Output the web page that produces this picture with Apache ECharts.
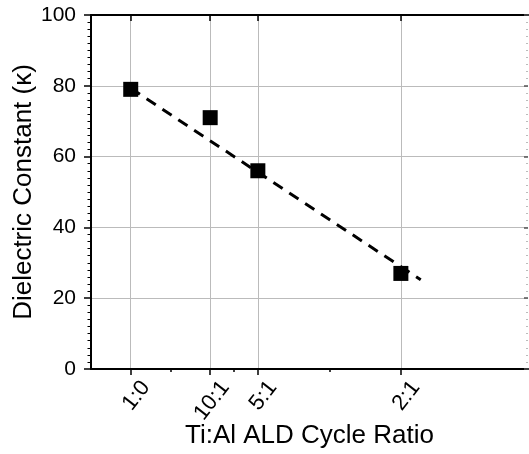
<!DOCTYPE html>
<html>
<head>
<meta charset="utf-8">
<script src="https://cdn.jsdelivr.net/npm/echarts@6/dist/echarts.min.js"></script>
<style>
  html, body { margin: 0; padding: 0; background: #fff; }
  #chart { width: 529px; height: 454px; }
</style>
</head>
<body>
<div id="chart"></div>
<script>
// Ti:Al cycle ratios and where they sit on the (non-uniform) x axis
const ratioLabels = ['1:0', '10:1', '5:1', '2:1'];
const ratioPos = [1, 2, 2.6, 4.4];
const minorPos = [1.5, 2.3, 3.5];

// measured dielectric constant
const kappa = [79, 71, 56, 27];

// dashed trend line end points
const fitX = [1, 4.65];
const fitY = [79.3, 25.2];

const FONT = 'Liberation Sans, Arial, sans-serif';
const X_MIN = 0.5, X_MAX = 6;

const chart = echarts.init(document.getElementById('chart'), null, { renderer: 'canvas' });

const labelFor = v => {
  const i = ratioPos.findIndex(p => Math.abs(p - v) < 1e-6);
  return i >= 0 ? ratioLabels[i] : '';
};

const blankX = (position, extra) => Object.assign({
  type: 'value', position, min: X_MIN, max: X_MAX,
  axisLine: { show: false },
  axisLabel: { show: false },
  splitLine: { show: false },
  nameMoveOverlap: false
}, extra);

chart.setOption({
  backgroundColor: '#ffffff',
  animation: false,
  grid: { left: 91, right: 1, top: 15, bottom: 83, containLabel: false },
  xAxis: [
    {
      type: 'value', position: 'bottom', min: X_MIN, max: X_MAX,
      name: 'Ti:Al ALD Cycle Ratio',
      nameLocation: 'middle', nameGap: 54, nameMoveOverlap: false,
      nameTextStyle: { fontSize: 26, color: '#000', fontFamily: FONT },
      axisLine: { show: true, onZero: false, lineStyle: { color: '#000', width: 2 } },
      axisTick: { show: true, customValues: ratioPos, length: 6, lineStyle: { color: '#000', width: 1.5 } },
      axisLabel: {
        show: true, customValues: ratioPos, formatter: labelFor,
        rotate: 52, fontSize: 22, color: '#000', fontFamily: FONT,
        verticalAlign: 'top', padding: [8, 0, 0, 0], margin: 3
      },
      splitLine: { show: true, lineStyle: { color: '#bbbbbb', width: 1 } }
    },
    blankX('bottom', {
      axisTick: { show: true, customValues: minorPos, length: 3, lineStyle: { color: '#000', width: 1.5 } }
    }),
    blankX('top', {
      axisLine: { show: true, onZero: false, lineStyle: { color: '#000', width: 2 } },
      axisTick: { show: true, inside: true, customValues: ratioPos, length: 6, lineStyle: { color: '#000', width: 1.5 } }
    }),
    blankX('top', {
      axisTick: { show: true, inside: true, customValues: minorPos, length: 3, lineStyle: { color: '#000', width: 1.5 } }
    })
  ],
  yAxis: [
    {
      type: 'value', position: 'left', min: 0, max: 100, interval: 20,
      name: 'Dielectric Constant (κ)',
      nameLocation: 'middle', nameGap: 54, nameMoveOverlap: false,
      nameTextStyle: { fontSize: 26, color: '#000', fontFamily: FONT },
      axisLine: { show: true, onZero: false, lineStyle: { color: '#000', width: 2 } },
      axisTick: { show: true, length: 7, lineStyle: { color: '#000', width: 1.5 } },
      minorTick: { show: true, splitNumber: 10, length: 3.5, lineStyle: { color: '#000', width: 1 } },
      axisLabel: { fontSize: 21, color: '#000', fontFamily: FONT, margin: 15 },
      splitLine: { show: true, lineStyle: { color: '#bbbbbb', width: 1 } }
    },
    {
      type: 'value', position: 'right', min: 0, max: 100, interval: 20,
      axisLine: { show: false },
      axisTick: { show: true, inside: true, length: 4, lineStyle: { color: '#555', width: 1.5 } },
      minorTick: { show: true, splitNumber: 10, length: 2, lineStyle: { color: '#bbb', width: 1 } },
      axisLabel: { show: false },
      splitLine: { show: false }
    }
  ],
  series: [
    {
      type: 'line',
      data: fitX.map((x, i) => [x, fitY[i]]),
      showSymbol: false,
      symbol: 'none',
      lineStyle: { color: '#000', width: 3, type: [11, 8] },
      z: 2
    },
    {
      type: 'scatter',
      data: ratioPos.map((x, i) => [x, kappa[i]]),
      symbol: 'rect',
      symbolSize: 15,
      itemStyle: { color: '#000', opacity: 1 },
      z: 3
    }
  ]
});
</script>
</body>
</html>
